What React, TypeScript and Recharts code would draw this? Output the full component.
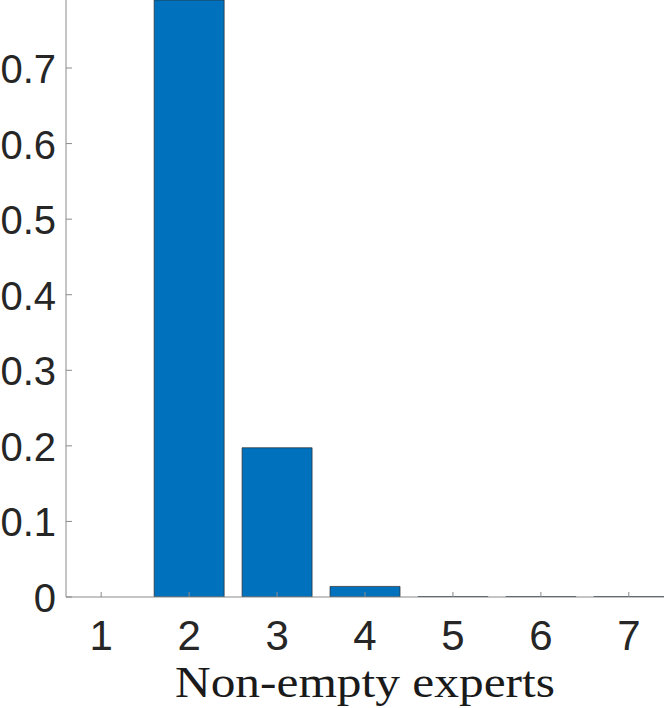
import React from 'react';
import { BarChart, Bar, XAxis, YAxis } from 'recharts';

const experts = [1, 2, 3, 4, 5, 6, 7];
const proportions = [0, 0.79, 0.1975, 0.014, 0.0005, 0.0005, 0.0005];
const yTicks = [0, 0.1, 0.2, 0.3, 0.4, 0.5, 0.6, 0.7];
const xLabel = 'Non-empty experts';

const data = experts.map((e, i) => ({ expert: e, value: proportions[i] }));

const TICK_COLOR = '#262626';
const AXIS_COLOR = '#8a8a8a';
const FONT = '"Liberation Sans", Arial, Helvetica, sans-serif';

const XTick = (props: any) => {
  const { x, y, payload } = props;
  return (
    <g>
      <line x1={x} y1={y} x2={x} y2={y - 5} stroke={AXIS_COLOR} strokeWidth={1} />
      <text x={x} y={y + 53} textAnchor="middle" fontFamily={FONT} fontSize={42} fill={TICK_COLOR}>
        {payload.value}
      </text>
    </g>
  );
};

const YTick = (props: any) => {
  const { x, y, payload } = props;
  return (
    <g>
      <line x1={x} y1={y} x2={x + 6} y2={y} stroke={AXIS_COLOR} strokeWidth={1} />
      <text x={x - 10} y={y + 15} textAnchor="end" fontFamily={FONT} fontSize={40} fill={TICK_COLOR}>
        {String(payload.value)}
      </text>
    </g>
  );
};

export default function App() {
  return (
    <div style={{ position: 'absolute', left: 0, top: 0, width: 664, height: 708, background: '#fff' }}>
      <BarChart width={664} height={708} data={data} margin={{ top: 0, right: 0, left: 0, bottom: 0 }}>
        <XAxis
          dataKey="expert"
          type="number"
          domain={[0.6, 7.4]}
          ticks={experts}
          allowDataOverflow
          height={111}
          tickSize={0}
          tickMargin={0}
          tick={<XTick />}
          axisLine={{ stroke: AXIS_COLOR, strokeWidth: 1 }}
          interval={0}
          label={{
            content: () => (
              <text
                x={365}
                y={697}
                textAnchor="middle"
                fontFamily='"Liberation Serif", "Times New Roman", serif'
                fontSize={45}
                fill="#1a1a1a"
                textLength={380}
                lengthAdjust="spacingAndGlyphs"
              >
                {xLabel}
              </text>
            ),
          }}
        />
        <YAxis
          type="number"
          domain={[0, 0.79]}
          ticks={yTicks}
          allowDataOverflow
          width={66}
          tickSize={0}
          tickMargin={0}
          tick={<YTick />}
          axisLine={{ stroke: AXIS_COLOR, strokeWidth: 1 }}
          interval={0}
        />
        <Bar
          dataKey="value"
          fill="#0072BD"
          stroke="#2b2b2b"
          strokeWidth={0.7}
          barSize={70}
          isAnimationActive={false}
        />
      </BarChart>
    </div>
  );
}
